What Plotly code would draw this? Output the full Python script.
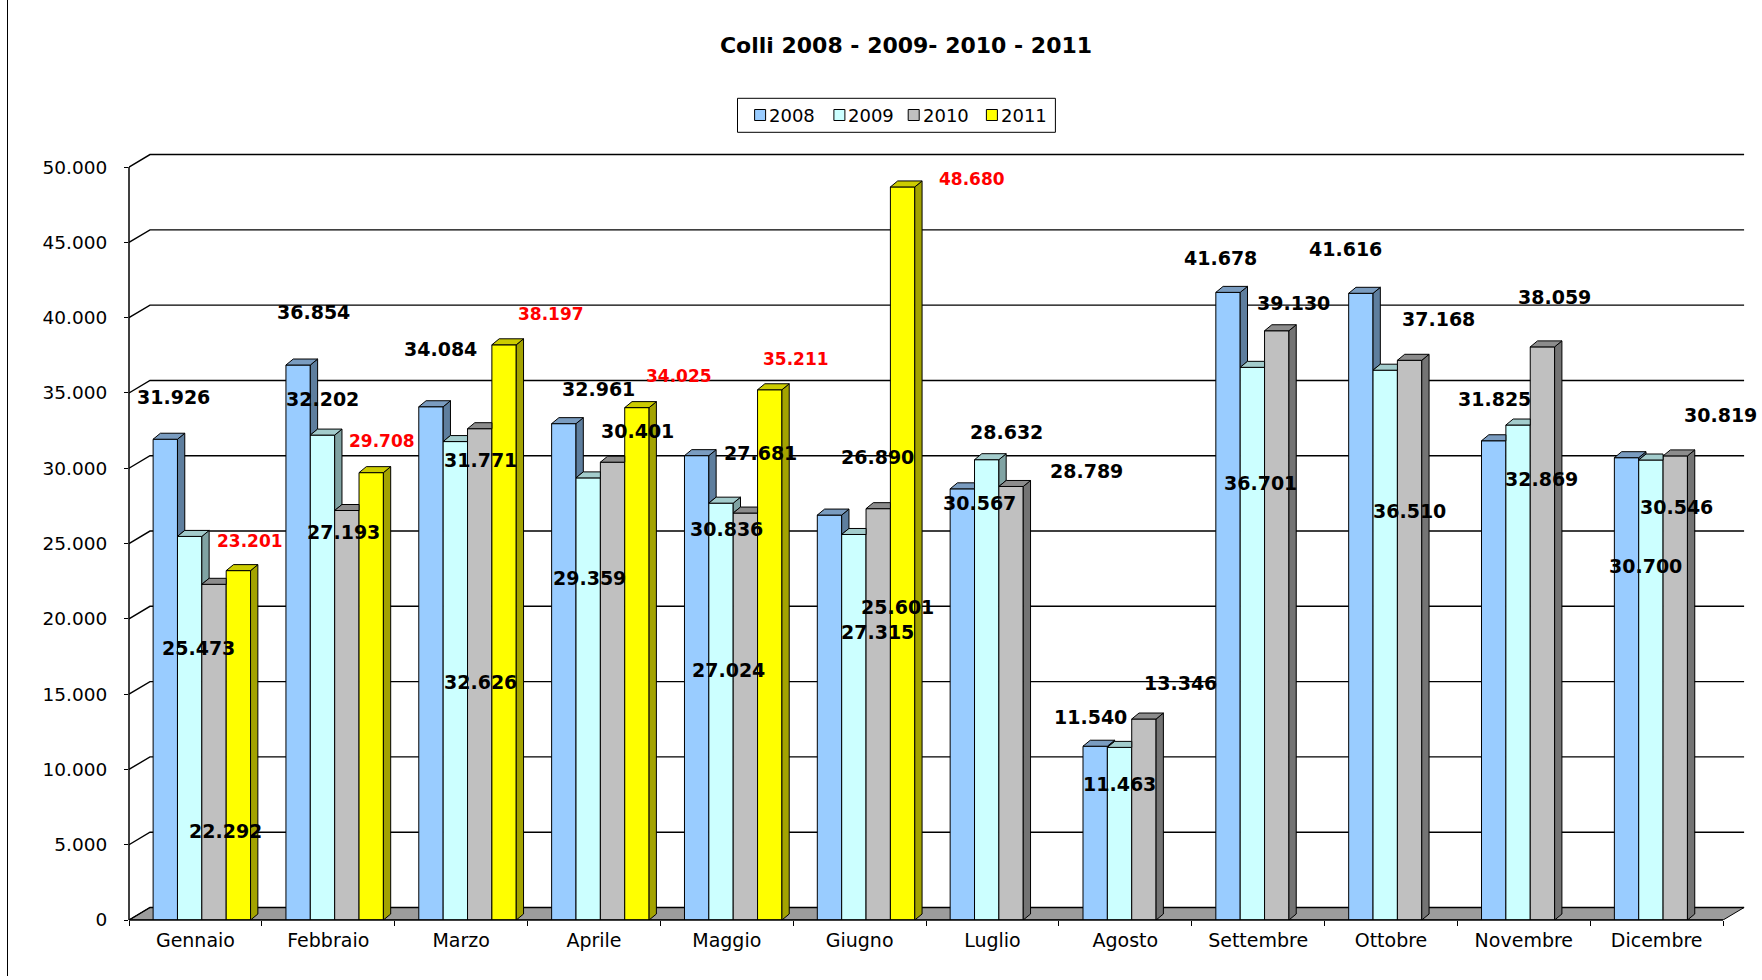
import plotly.graph_objects as go

# ---------------- data ----------------
months = ["Gennaio", "Febbraio", "Marzo", "Aprile", "Maggio", "Giugno",
          "Luglio", "Agosto", "Settembre", "Ottobre", "Novembre", "Dicembre"]
years = ["2008", "2009", "2010", "2011"]
v2008 = [31926, 36854, 34084, 32961, 30836, 26890, 28632, 11540, 41678, 41616, 31825, 30700]
v2009 = [25473, 32202, 31771, 29359, 27681, 25601, 30567, 11463, 36701, 36510, 32869, 30546]
v2010 = [22292, 27193, 32626, 30401, 27024, 27315, 28789, 13346, 39130, 37168, 38059, 30819]
v2011 = [23201, 29708, 38197, 34025, 35211, 48680, None, None, None, None, None, None]
y_ticks = [0, 5000, 10000, 15000, 20000, 25000, 30000, 35000, 40000, 45000, 50000]
title_text = "Colli 2008 - 2009- 2010 - 2011"

series = [v2008, v2009, v2010, v2011]

# ---------------- styling ----------------
front_col = ["#99CCFF", "#CCFFFF", "#C0C0C0", "#FFFF00"]
top_col = ["#7A9CC0", "#A3CCCC", "#8C8C8C", "#CCCC00"]
side_col = ["#5E7E9E", "#80A3A3", "#747474", "#A3A300"]
label_col = ["#000000", "#000000", "#000000", "#FF0000"]
label_size = [19, 19, 19, 17]

# label placement (pixel shift from bar top centre, +y = up), mimicking the original
label_shift = [
    [(8.7, 42.1), (15.2, 53.3), (9.4, 58.0), (35.0, 34.4), (30.3, -72.9), (48.1, 58.4),
     (44.5, 56.9), (-5.1, 28.8), (-7.6, 34.7), (-15.6, 44.6), (1.0, 41.4), (18.8, -107.9)],
    [(9.0, -111.3), (-0.2, 35.7), (25.5, -18.5), (1.7, -100.2), (39.7, 49.9), (44.0, -72.8),
     (-6.8, -43.0), (-0.3, -36.3), (8.5, -115.2), (24.0, -140.4), (23.9, -54.1), (26.0, -47.2)],
    [(11.7, -246.5), (-3.1, -21.4), (1.2, -253.8), (24.5, 31.4), (-17.2, -157.1), (-0.6, -123.3),
     (75.6, 15.2), (36.1, 36.5), (16.8, 28.0), (28.9, 40.8), (11.9, 49.8), (45.0, 40.9)],
    [(12.0, 29.7), (10.7, 31.7), (46.5, 30.9), (41.8, 31.9), (25.8, 30.8), (69.5, 7.8),
     None, None, None, None, None, None],
]

W, H = 1762, 980
ML, MR, MT, MB = 129, 15, 152, 60
X_RANGE = [-0.5, 11.68]
Y_RANGE = [0, 51000]
pw, ph = W - ML - MR, H - MT - MB
px_x = pw / (X_RANGE[1] - X_RANGE[0])
px_y = ph / (Y_RANGE[1] - Y_RANGE[0])


def paper_x(px):
    return (px - ML) / pw


def paper_y(py):
    return (H - MB - py) / ph


BAR_W = 0.1834
GROUP_LEFT = -0.3185
bdx, bdy = 7.3 / px_x, 6.0 / px_y        # bar depth
wdx, wdy = 21.0 / px_x, 12.5 / px_y      # wall depth
FONT = "DejaVu Sans"

xs = list(range(len(months)))
fig = go.Figure()

# front faces: real bars
for j, vals in enumerate(series):
    fig.add_trace(go.Bar(
        x=xs, y=vals, name=years[j], width=BAR_W, offset=GROUP_LEFT + BAR_W * j,
        marker=dict(color=front_col[j], line=dict(color="black", width=1)),
        hovertemplate="%{y:,d}<extra>" + years[j] + "</extra>", showlegend=False,
    ))

# 3D side and top faces derived from the same values
for j, vals in enumerate(series):
    sx, sy, tx, ty = [], [], [], []
    for i, v in enumerate(vals):
        if v is None:
            continue
        xl = i + GROUP_LEFT + BAR_W * j
        xr = xl + BAR_W
        nxt = series[j + 1][i] if j + 1 < len(series) else None
        lo = 0 if nxt is None else nxt
        if lo < v:
            sx += [xr, xr, xr + bdx, xr + bdx, xr, None]
            sy += [lo, v, v + bdy, lo + bdy, lo, None]
        if nxt is not None and nxt >= v:
            tx += [xl, xr, xr, xl + bdx, xl, None]
            ty += [v, v, v + bdy, v + bdy, v, None]
        else:
            tx += [xl, xr, xr + bdx, xl + bdx, xl, None]
            ty += [v, v, v + bdy, v + bdy, v, None]
    fig.add_trace(go.Scatter(x=sx, y=sy, mode="lines", fill="toself", fillcolor=side_col[j],
                             line=dict(color="black", width=1), hoverinfo="skip", showlegend=False))
    fig.add_trace(go.Scatter(x=tx, y=ty, mode="lines", fill="toself", fillcolor=top_col[j],
                             line=dict(color="black", width=1), hoverinfo="skip", showlegend=False))

shapes = []
x_lo, x_hi = -0.5, len(months) - 0.5
# floor
shapes.append(dict(type="path", xref="x", yref="y", layer="below",
                   path=f"M {x_lo},0 L {x_hi},0 L {x_hi + wdx},{wdy} L {x_lo + wdx},{wdy} Z",
                   fillcolor="#9C9C9C", line=dict(color="black", width=1)))
# back wall gridlines with the perspective step
for t in y_ticks:
    shapes.append(dict(type="path", xref="x", yref="y", layer="below",
                       path=f"M {x_lo},{t} L {x_lo + wdx},{t + wdy} L {x_hi + wdx},{t + wdy}",
                       line=dict(color="black", width=1.4)))
# front axis lines
shapes.append(dict(type="line", xref="paper", yref="y", x0=0, x1=0, y0=0, y1=y_ticks[-1],
                   line=dict(color="black", width=1.5)))
shapes.append(dict(type="line", xref="x", yref="paper", x0=x_lo, x1=x_hi, y0=0, y1=0,
                   line=dict(color="black", width=1.5)))
# chart object border on the left
shapes.append(dict(type="line", xref="paper", yref="paper",
                   x0=paper_x(7.5), x1=paper_x(7.5), y0=paper_y(976), y1=paper_y(0),
                   line=dict(color="black", width=1)))

annotations = []
for j, vals in enumerate(series):
    for i, v in enumerate(vals):
        if v is None:
            continue
        sh = label_shift[j][i]
        annotations.append(dict(
            x=i + GROUP_LEFT + BAR_W * (j + 0.5), y=v, xref="x", yref="y",
            text=f"{v:,d}".replace(",", "."), showarrow=False,
            xshift=sh[0], yshift=sh[1], xanchor="center", yanchor="middle",
            font=dict(family=FONT, size=label_size[j], color=label_col[j], weight="bold"),
        ))

# legend (drawn as box + swatches + texts to match the original spacing)
LEG_BOX = (737.5, 98.3, 1055.4, 132.3)
LEG_SWATCH_X = [754.6, 833.9, 908.2, 986.4]
SW = 11.0
LEG_Y = 115.0
shapes.append(dict(type="rect", xref="paper", yref="paper",
                   x0=paper_x(LEG_BOX[0]), x1=paper_x(LEG_BOX[2]),
                   y0=paper_y(LEG_BOX[3]), y1=paper_y(LEG_BOX[1]),
                   fillcolor="white", line=dict(color="black", width=1)))
for j, name in enumerate(years):
    sx0 = LEG_SWATCH_X[j]
    shapes.append(dict(type="rect", xref="paper", yref="paper",
                       x0=paper_x(sx0), x1=paper_x(sx0 + SW),
                       y0=paper_y(LEG_Y + SW / 2), y1=paper_y(LEG_Y - SW / 2),
                       fillcolor=front_col[j], line=dict(color="black", width=1)))
    annotations.append(dict(x=paper_x(sx0 + SW + 1.5), y=paper_y(LEG_Y), xref="paper", yref="paper",
                            text=name, showarrow=False, xanchor="left", yanchor="middle",
                            font=dict(family=FONT, size=18, color="black")))

fig.update_layout(
    width=W, height=H,
    margin=dict(l=ML, r=MR, t=MT, b=MB, autoexpand=False),
    paper_bgcolor="white", plot_bgcolor="white",
    separators=",.",
    barmode="overlay",
    showlegend=False,
    font=dict(family=FONT, color="black"),
    title=dict(text=title_text, x=906 / W, y=1 - 45 / H, xref="container", yref="container",
               xanchor="center", yanchor="middle",
               font=dict(family=FONT, size=22, color="black", weight="bold")),
    xaxis=dict(range=X_RANGE, tickmode="array", tickvals=xs, ticktext=months,
               ticks="", showgrid=False, zeroline=False, showline=False,
               tickfont=dict(family=FONT, size=19, color="black"),
               ticklabelstandoff=7, automargin=False,
               minor=dict(tickmode="array", tickvals=[k - 0.5 for k in range(len(months) + 1)],
                          ticks="outside", ticklen=5, tickwidth=1, tickcolor="black", showgrid=False)),
    yaxis=dict(range=Y_RANGE, tickmode="array", tickvals=y_ticks, tickformat=",d",
               ticks="outside", ticklen=4, tickwidth=1, tickcolor="black",
               showgrid=False, zeroline=False, showline=False,
               tickfont=dict(family=FONT, size=18.5, color="black"),
               ticklabelstandoff=13, automargin=False),
    shapes=shapes,
    annotations=annotations,
)

fig.write_html("out.html",
               config={"displayModeBar": False},
               post_script=["document.body.style.margin='0px';document.body.style.overflow='hidden';"])
